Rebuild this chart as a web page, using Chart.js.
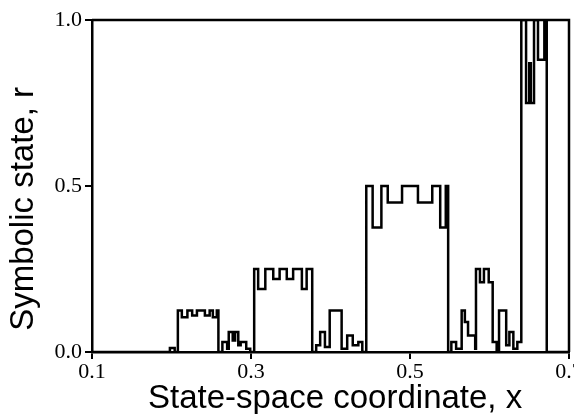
<!DOCTYPE html>
<html><head><meta charset="utf-8">
<script src="https://cdn.jsdelivr.net/npm/chart.js@4/dist/chart.umd.min.js"></script>
<style>html,body{margin:0;padding:0;background:#fff;overflow:hidden}canvas{display:block}</style>
</head><body>
<canvas id="c" width="574" height="414"></canvas>
<script>
// State-space coordinate x where each step starts
const xStarts = [0.100,0.198,0.204,0.208,0.213,0.220,0.226,0.232,0.242,0.248,0.252,0.257,0.259,
  0.264,0.270,0.272,0.277,0.280,0.284,0.287,0.294,0.299,
  0.304,0.309,0.318,0.328,0.336,0.345,0.353,0.364,0.370,
  0.377,0.382,0.387,0.393,0.399,0.414,0.421,0.428,0.435,0.440,
  0.445,0.453,0.464,0.472,0.490,0.510,0.528,0.538,0.545,0.548,
  0.552,0.558,0.565,0.569,0.573,0.582,0.583,0.588,0.593,0.599,0.604,0.609,0.612,0.621,0.625,0.630,0.635,
  0.640,0.646,0.650,0.652,0.656,0.661,0.669,0.672,0.700];
// Symbolic state r on each step
const rValues = [0,0.012,0,0.125,0.105,0.125,0.11,0.125,0.11,0.125,0.105,0.125,0,
  0.03,0.01,0.06,0.035,0.06,0.02,0.03,0.01,0,
  0.25,0.19,0.25,0.22,0.25,0.22,0.25,0.19,0.25,
  0,0.02,0.06,0.015,0.125,0.01,0.05,0.02,0.03,0,
  0.5,0.375,0.5,0.45,0.5,0.45,0.5,0.375,0.5,0,
  0.03,0.01,0.125,0.09,0.05,0.01,0.25,0.21,0.25,0.21,0.03,0,0.125,0.02,0.06,0.01,0.03,
  1.0,0.75,0.87,0.75,1.0,0.88,1.0,0,0];
const xTicks = [0.1,0.3,0.5,0.7];
const yTicks = [0.0,0.5,1.0];

const points = xStarts.map((x,i)=>({x:x,y:rValues[i]}));

const frame = {
  id:'frame',
  afterDraw(chart){
    const a = chart.chartArea, ctx = chart.ctx;
    ctx.save();
    ctx.strokeStyle='#000'; ctx.lineWidth=2.5;
    ctx.beginPath();
    ctx.moveTo(a.left, a.top); ctx.lineTo(a.right, a.top); ctx.lineTo(a.right, a.bottom);
    ctx.stroke();
    ctx.restore();
  }
};

new Chart(document.getElementById('c'), {
  type:'line',
  data:{datasets:[{data:points, borderColor:'#000', borderWidth:2.5, pointRadius:0, stepped:'before', tension:0, fill:false}]},
  options:{
    responsive:false, animation:false,
    layout:{padding:{top:20,right:5,bottom:0,left:0}},
    plugins:{legend:{display:false}, tooltip:{enabled:false}},
    scales:{
      x:{type:'linear', min:0.1, max:0.7,
        afterBuildTicks(s){ s.ticks = xTicks.map(v=>({value:v})); },
        afterFit(s){ s.height=62; s.paddingLeft=0; s.paddingRight=0; },
        ticks:{color:'#000', padding:0, maxRotation:0, autoSkip:false,
          font:{family:'Liberation Serif', size:22}, callback:v=>v.toFixed(1)},
        grid:{display:true, drawOnChartArea:false, drawTicks:true, tickLength:7, color:'#000', lineWidth:2},
        border:{display:true, color:'#000', width:2.5},
        title:{display:true, text:' State-space coordinate, x', color:'#000',
          font:{family:'Liberation Sans', size:33, lineHeight:1}, padding:{top:0,bottom:-1}}
      },
      y:{type:'linear', min:0, max:1,
        afterBuildTicks(s){ s.ticks = yTicks.map(v=>({value:v})); },
        afterFit(s){ s.width=92; s.paddingTop=0; s.paddingBottom=0; },
        ticks:{color:'#000', padding:3,
          font:{family:'Liberation Serif', size:22}, callback:v=>v.toFixed(1)},
        grid:{display:true, drawOnChartArea:false, drawTicks:true, tickLength:7, color:'#000', lineWidth:2},
        border:{display:true, color:'#000', width:2.5},
        title:{display:true, text:'Symbolic state, r     ', color:'#000',
          font:{family:'Liberation Sans', size:33, lineHeight:1}, padding:{top:7,bottom:0}}
      }
    }
  },
  plugins:[frame]
});
</script>
</body></html>
